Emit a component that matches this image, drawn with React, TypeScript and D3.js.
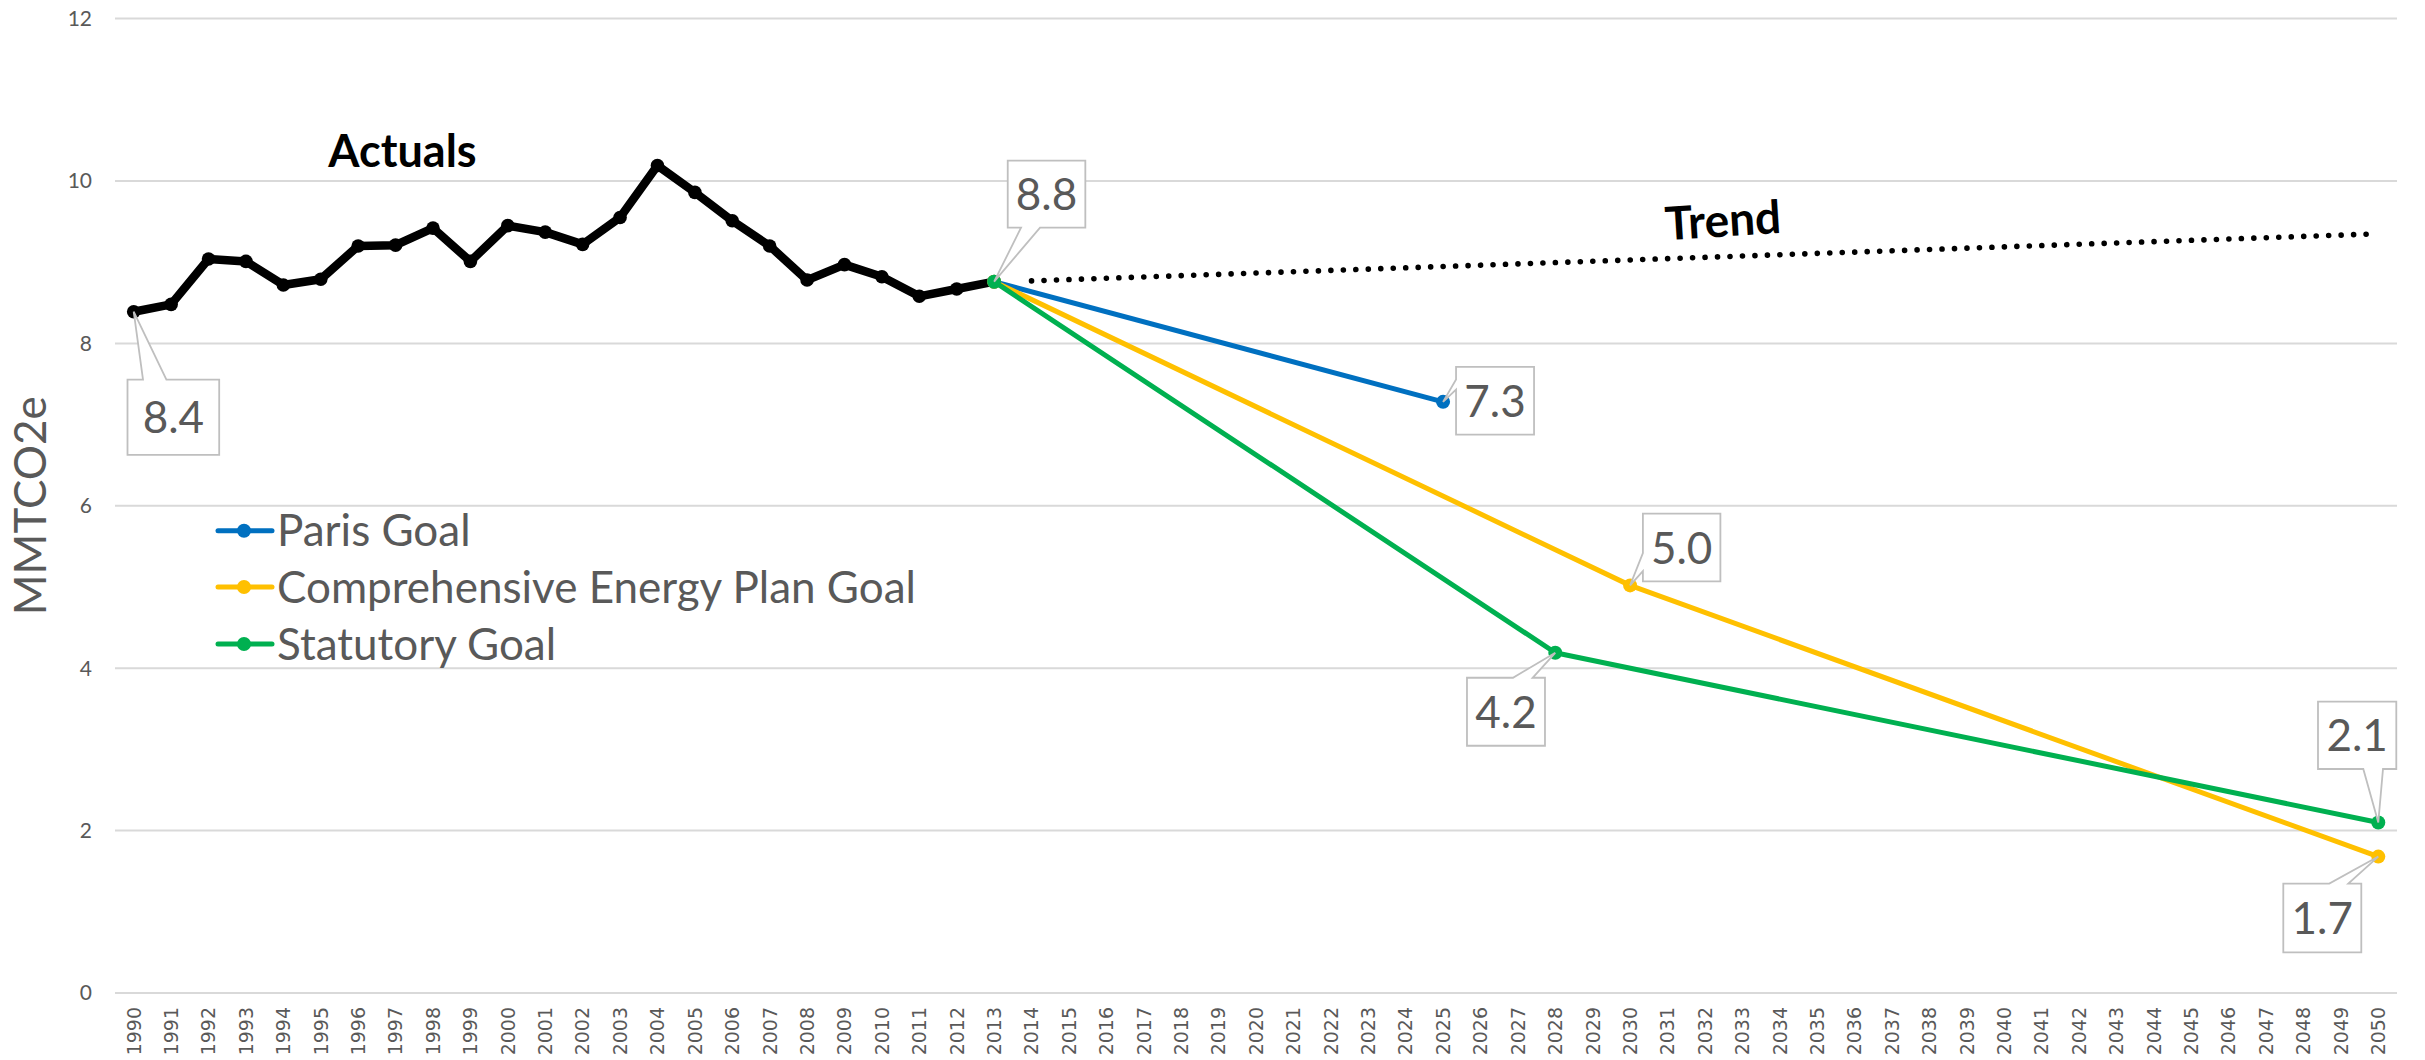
import React from "react";
import * as d3 from "d3";

// ---------- DATA ----------
const years = [
  "1990","1991","1992","1993","1994","1995","1996","1997","1998","1999",
  "2000","2001","2002","2003","2004","2005","2006","2007","2008","2009",
  "2010","2011","2012","2013","2014","2015","2016","2017","2018","2019",
  "2020","2021","2022","2023","2024","2025","2026","2027","2028","2029",
  "2030","2031","2032","2033","2034","2035","2036","2037","2038","2039",
  "2040","2041","2042","2043","2044","2045","2046","2047","2048","2049","2050",
];
const yTicks = [0, 2, 4, 6, 8, 10, 12];

const actualYears = [
  "1990","1991","1992","1993","1994","1995","1996","1997","1998","1999",
  "2000","2001","2002","2003","2004","2005","2006","2007","2008","2009",
  "2010","2011","2012","2013",
];
const actualValues = [
  8.39, 8.48, 9.04, 9.01, 8.72, 8.79, 9.2, 9.21, 9.42, 9.01,
  9.45, 9.37, 9.22, 9.55, 10.19, 9.86, 9.51, 9.2, 8.78, 8.97,
  8.82, 8.58, 8.67, 8.76,
];

const trendYears = ["2014", "2050"];
const trendValues = [8.77, 9.35];

const parisYears = ["2013", "2025"];
const parisValues = [8.76, 7.28];

const cepYears = ["2013", "2030", "2050"];
const cepValues = [8.76, 5.02, 1.68];

const statYears = ["2013", "2028", "2050"];
const statValues = [8.76, 4.19, 2.1];

const legendNames = ["Paris Goal", "Comprehensive Energy Plan Goal", "Statutory Goal"];
const legendColors = ["#0070C0", "#FFC000", "#00B050"];

// ---------- LAYOUT / STYLE ----------
const W = 2425;
const H = 1060;
const PLOT_L = 115;
const PLOT_R = 2397;
const PLOT_T = 18.6;
const PLOT_B = 993;
const TEXT_GRAY = "#595959";
const GRID = "#D9D9D9";
const BOX_BORDER = "#BFBFBF";
const FONT = "Lato, 'Open Sans', sans-serif";
const BIG = 44;

// label callouts: box offset relative to point, tail side, tail base offsets along the edge
const labelCfg = [
  { key: "actual", year: "1990", dx: -6.2, dy: 67.8, w: 91.7, h: 75.4, side: "top", a: 15.5, b: 38.9 },
  { key: "actual", year: "2013", dx: 13.6, dy: -121, w: 77.6, h: 67, side: "bottom", a: 13.3, b: 32.3 },
  { key: "paris", year: "2025", dx: 13, dy: -35, w: 78, h: 67.7, side: "left", a: 12.7, b: 22.7 },
  { key: "cep", year: "2030", dx: 12.8, dy: -71.7, w: 77.5, h: 67.7, side: "left", a: 39.4, b: 57.4 },
  { key: "stat", year: "2028", dx: -88.3, dy: 25, w: 78, h: 68, side: "top", a: 46, b: 65.6 },
  { key: "stat", year: "2050", dx: -60.3, dy: -120.8, w: 78.3, h: 67.3, side: "bottom", a: 45.3, b: 65 },
  { key: "cep", year: "2050", dx: -95, dy: 27, w: 78, h: 68.7, side: "top", a: 46, b: 65 },
];

function calloutPath(x: number, y: number, w: number, h: number, side: string, a: number, b: number, tx: number, ty: number) {
  if (side === "bottom") {
    return `M${x},${y}H${x + w}V${y + h}H${x + b}L${tx},${ty}L${x + a},${y + h}H${x}Z`;
  }
  if (side === "top") {
    return `M${x},${y}H${x + a}L${tx},${ty}L${x + b},${y}H${x + w}V${y + h}H${x}Z`;
  }
  return `M${x},${y}H${x + w}V${y + h}H${x}V${y + b}L${tx},${ty}L${x},${y + a}Z`;
}

export default function App() {
  const x = d3.scaleBand<string>().domain(years).range([PLOT_L, PLOT_R]).paddingInner(0).paddingOuter(0);
  const bw = x.bandwidth();
  const cx = (yr: string) => (x(yr) as number) + bw / 2;
  const y = d3.scaleLinear().domain([0, 12]).range([PLOT_B, PLOT_T]);
  const fmt = d3.format(".1f");

  const line = d3
    .line<[string, number]>()
    .x((d) => cx(d[0]))
    .y((d) => y(d[1]));

  const zip = (ys: string[], vs: number[]) => ys.map((yr, i) => [yr, vs[i]] as [string, number]);
  const series: Record<string, [string, number][]> = {
    actual: zip(actualYears, actualValues),
    paris: zip(parisYears, parisValues),
    cep: zip(cepYears, cepValues),
    stat: zip(statYears, statValues),
  };
  const trend = zip(trendYears, trendValues);
  const goals = [
    { key: "paris", color: legendColors[0] },
    { key: "cep", color: legendColors[1] },
    { key: "stat", color: legendColors[2] },
  ];

  const legendRowY = [530.7, 587, 644];

  return (
    <svg
      width={W}
      height={H}
      style={{ position: "absolute", left: 0, top: 0, background: "#fff" }}
      xmlns="http://www.w3.org/2000/svg"
    >
      <rect x={0} y={0} width={W} height={H} fill="#fff" />
      {yTicks.map((t) => (
        <line key={t} x1={PLOT_L} x2={PLOT_R} y1={y(t)} y2={y(t)} stroke={GRID} strokeWidth={2} />
      ))}
      {yTicks.map((t) => (
        <text key={"yl" + t} x={92} y={y(t)} dy="0.35em" textAnchor="end" fontFamily={FONT} fontSize={21} fill={TEXT_GRAY}>
          {t}
        </text>
      ))}
      {years.map((yr) => (
        <text
          key={"xl" + yr}
          transform={`translate(${cx(yr)},1007) rotate(-90)`}
          dy="0.36em"
          textAnchor="end"
          fontFamily="'DejaVu Sans', Verdana, sans-serif"
          fontSize={19}
          fill={TEXT_GRAY}
        >
          {yr}
        </text>
      ))}
      <text transform={`translate(46,${(PLOT_T + PLOT_B) / 2}) rotate(-90)`} textAnchor="middle" fontFamily={FONT} fontSize={BIG} fill={TEXT_GRAY}>
        MMTCO2e
      </text>

      <path d={line(series.actual) || ""} fill="none" stroke="#000" strokeWidth={8.5} strokeLinejoin="round" />
      {series.actual.map((d) => (
        <circle key={"a" + d[0]} cx={cx(d[0])} cy={y(d[1])} r={6.8} fill="#000" />
      ))}
      <path
        d={line(trend) || ""}
        fill="none"
        stroke="#000"
        strokeWidth={5.6}
        strokeLinecap="round"
        strokeDasharray={`0.01 ${bw / 3}`}
      />
      {goals.map((g) => (
        <g key={g.key}>
          <path d={line(series[g.key]) || ""} fill="none" stroke={g.color} strokeWidth={5} strokeLinejoin="round" />
          {series[g.key].map((d) => (
            <circle key={g.key + d[0]} cx={cx(d[0])} cy={y(d[1])} r={7} fill={g.color} />
          ))}
        </g>
      ))}

      {labelCfg.map((c, i) => {
        const pt = series[c.key].find((d) => d[0] === c.year)!;
        const px = cx(pt[0]);
        const py = y(pt[1]);
        const bx = px + c.dx;
        const by = py + c.dy;
        return (
          <g key={"lab" + i}>
            <path d={calloutPath(bx, by, c.w, c.h, c.side, c.a, c.b, px, py)} fill="#fff" stroke={BOX_BORDER} strokeWidth={1.8} strokeLinejoin="miter" />
            <text x={bx + c.w / 2} y={by + c.h / 2 + 16} textAnchor="middle" fontFamily={FONT} fontSize={BIG} fill={TEXT_GRAY}>
              {fmt(pt[1])}
            </text>
          </g>
        );
      })}

      <text x={402.5} y={166.7} textAnchor="middle" fontFamily={FONT} fontWeight="bold" fontSize={45} fill="#000">
        Actuals
      </text>
      <text transform="translate(1724,236.5) rotate(-3.6)" textAnchor="middle" fontFamily={FONT} fontWeight="bold" fontSize={46} fill="#000">
        Trend
      </text>

      {legendNames.map((n, i) => (
        <g key={"lg" + n}>
          <line x1={218} x2={272} y1={legendRowY[i]} y2={legendRowY[i]} stroke={legendColors[i]} strokeWidth={5} strokeLinecap="round" />
          <circle cx={244} cy={legendRowY[i]} r={7} fill={legendColors[i]} />
          <text x={277} y={legendRowY[i] + 15.5} fontFamily={FONT} fontSize={BIG} fill={TEXT_GRAY}>
            {n}
          </text>
        </g>
      ))}
    </svg>
  );
}
